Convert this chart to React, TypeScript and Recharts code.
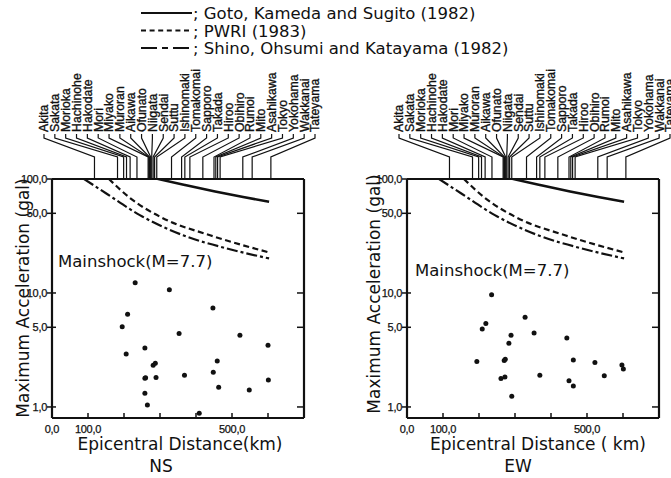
import React from 'react';
import { ComposedChart, Line, Scatter, XAxis, YAxis } from 'recharts';

// ── recording stations (top axis) and epicentral distance, km ──
const stations = [
  'Akita', 'Sakata', 'Morioka', 'Hachinohe', 'Hakodate', 'Mori', 'Miyako', 'Muroran',
  'Aikawa', 'Ofunato', 'Niigata', 'Sendai', 'Suttu', 'Ishinomaki', 'Tomakomai', 'Sapporo',
  'Takada', 'Hiroo', 'Obihiro', 'Rumoi', 'Mito', 'Asahikawa', 'Tokyo', 'Yokohama',
  'Wakkanai', 'Tateyama',
];
const stationKm = [
  118, 182, 199, 207, 217, 236, 267, 269,
  271, 274, 277, 281, 285, 291, 332, 360,
  369, 383, 419, 450, 455, 460, 467, 530,
  556, 608,
];

// ── observed peak accelerations, NS component ──
const nsKm = [231, 326, 210, 447, 195, 353, 522, 600, 206, 258, 459, 281, 287, 448, 258, 260, 289, 368, 601, 463, 548, 258, 265, 409];
const nsGal = [12.3, 10.7, 6.5, 7.4, 5.05, 4.4, 4.25, 3.47, 2.91, 3.29, 2.53, 2.32, 2.42, 2.02, 1.79, 1.8, 1.81, 1.9, 1.72, 1.49, 1.41, 1.32, 1.04, 0.88];

// ── observed peak accelerations, EW component ──
const ewKm = [235, 328, 219, 209, 289, 353, 444, 283, 194, 270, 273, 462, 522, 597, 601, 261, 272, 369, 450, 462, 548, 291];
const ewGal = [9.67, 6.12, 5.39, 4.84, 4.26, 4.46, 4.03, 3.63, 2.51, 2.55, 2.62, 2.58, 2.46, 2.33, 2.15, 1.78, 1.83, 1.9, 1.7, 1.53, 1.88, 1.24];

// ── attenuation curves ──
const gotoKm = [294, 369, 453, 531, 603];
const gotoGal = [100, 88.5, 77.6, 69.4, 63.1];
const pwriKm = [158, 217, 308, 439, 603];
const pwriGal = [100, 68, 45.3, 32.1, 22.7];
const shinoKm = [89, 153, 244, 364, 494, 603];
const shinoGal = [100, 73.8, 48.2, 32.1, 24.2, 20.1];

const distTicks = [0, 100, 200, 300, 400, 500, 600];
const distLabelled = [0, 100, 500];
const galTicks = [1, 5, 10, 50, 100];

const PLOT_LEFT = 52;
const LABEL_STEP = 10.84;
const sans = "'DejaVu Sans', sans-serif";
const small = "'Liberation Sans', Arial, sans-serif";

const zip = (km: number[], gal: number[]) => km.map((k, i) => ({ km: k, gal: gal[i] }));
const fmt = (v: number) => v.toFixed(1).replace('.', ',');

const StationTick = (props: any) => {
  const { x, y, index } = props;
  const lx = PLOT_LEFT - 8 + index * LABEL_STEP;
  return (
    <g>
      <polyline
        points={`${lx},${y - 45} ${lx},${y - 41} ${x},${y - 22} ${x},${y}`}
        fill="none" stroke="#111" strokeWidth={1.2}
      />
      <text transform={`translate(${lx + 4.4},${y - 47}) rotate(-90)`} fontSize={12.3} fontFamily={small}
        fill="#111" stroke="#111" strokeWidth={0.35}>
        {stations[index]}
      </text>
    </g>
  );
};

const DistTick = (props: any) => {
  const { x, y, payload } = props;
  const v = payload.value;
  return (
    <g>
      {v > 0 && <line x1={x} x2={x} y1={y} y2={y - 5} stroke="#111" strokeWidth={1.5} />}
      {distLabelled.includes(v) && (
        <text x={x} y={y + 15} textAnchor="middle" fontSize={11} fontFamily={small} letterSpacing={-0.3}
          fill="#111" stroke="#111" strokeWidth={0.25}>
          {fmt(v)}
        </text>
      )}
    </g>
  );
};

const GalTick = (props: any) => {
  const { x, y, payload } = props;
  return (
    <g>
      <line x1={x - 5} x2={x + 4} y1={y} y2={y} stroke="#111" strokeWidth={1.5} />
      <text x={x - 5} y={y + 4} textAnchor="end" fontSize={11} fontFamily={small} letterSpacing={-0.3}
        fill="#111" stroke="#111" strokeWidth={0.25}>
        {fmt(payload.value)}
      </text>
    </g>
  );
};

const RightTick = (props: any) => {
  const { x, y } = props;
  return <line x1={x - 7} x2={x} y1={y} y2={y} stroke="#111" strokeWidth={1.5} />;
};

const dot = (p: any) => <circle cx={p.cx} cy={p.cy} r={2.5} fill="#111" />;
const frame = { stroke: '#111', strokeWidth: 2.2 };

const Panel = ({ km, gal, width, rightW }: { km: number[]; gal: number[]; width: number; rightW: number }) => (
  <ComposedChart width={width} height={478} margin={{ top: 0, right: 0, bottom: 0, left: 0 }}>
    <XAxis xAxisId="bottom" dataKey="km" type="number" domain={[0, 700]} ticks={distTicks} interval={0}
      tick={DistTick} tickSize={0} tickMargin={0} height={60} axisLine={frame} allowDataOverflow />
    <XAxis xAxisId="top" orientation="top" dataKey="km" type="number" domain={[0, 700]} ticks={stationKm} interval={0}
      tick={StationTick} tickSize={0} tickMargin={0} height={179} axisLine={frame} allowDataOverflow />
    <YAxis yAxisId="left" dataKey="gal" type="number" scale="log" domain={[0.8, 100]} ticks={galTicks} interval={0}
      tick={GalTick} tickSize={0} tickMargin={0} width={PLOT_LEFT} axisLine={frame} allowDataOverflow />
    <YAxis yAxisId="right" orientation="right" dataKey="gal" type="number" scale="log" domain={[0.8, 100]} ticks={galTicks.slice(0, 4)} interval={0}
      tick={RightTick} tickSize={0} tickMargin={0} width={rightW} axisLine={frame} allowDataOverflow />

    <Line xAxisId="top" yAxisId="right" data={zip(gotoKm, gotoGal)} dataKey="gal" type="monotone"
      stroke="#111" strokeWidth={2.6} dot={false} isAnimationActive={false} />
    <Line xAxisId="top" yAxisId="right" data={zip(pwriKm, pwriGal)} dataKey="gal" type="monotone"
      stroke="#111" strokeWidth={2.2} strokeDasharray="6 3.5" dot={false} isAnimationActive={false} />
    <Line xAxisId="top" yAxisId="right" data={zip(shinoKm, shinoGal)} dataKey="gal" type="monotone"
      stroke="#111" strokeWidth={2.2} strokeDasharray="11 3 3 3" dot={false} isAnimationActive={false} />

    <Scatter xAxisId="bottom" yAxisId="left" data={zip(km, gal)} shape={dot} isAnimationActive={false} />
  </ComposedChart>
);

const legendRows = [
  { y: 19, dash: undefined, text: '; Goto, Kameda and Sugito (1982)' },
  { y: 36.5, dash: '5 3.6', text: '; PWRI (1983)' },
  { y: 54, dash: '16 5 6 5', text: '; Shino, Ohsumi and Katayama (1982)' },
];

export default function App() {
  return (
    <div style={{ position: 'absolute', left: 0, top: 0, width: 671, height: 478, background: '#fff', overflow: 'hidden' }}>
      <div style={{ position: 'absolute', left: 0, top: 0 }}>
        <Panel km={nsKm} gal={nsGal} width={330} rightW={26} />
      </div>
      <div style={{ position: 'absolute', left: 355, top: 0 }}>
        <Panel km={ewKm} gal={ewGal} width={316} rightW={12} />
      </div>
      <svg width={671} height={478} style={{ position: 'absolute', left: 0, top: 0, pointerEvents: 'none' }}
        fontFamily={sans} fill="#111">
        {legendRows.map((r) => (
          <g key={r.text}>
            <line x1={141} x2={192} y1={r.y - 6} y2={r.y - 6} stroke="#111" strokeWidth={2} strokeDasharray={r.dash} />
            <text x={193} y={r.y} fontSize={16.5}>{r.text}</text>
          </g>
        ))}

        <text x={58} y={267} fontSize={16.5}>Mainshock(M=7.7)</text>
        <text x={415} y={276} fontSize={16.5}>Mainshock(M=7.7)</text>

        <text transform="translate(29,298) rotate(-90)" textAnchor="middle" fontSize={17}>Maximum Acceleration (gal)</text>
        <text transform="translate(380,294) rotate(-90)" textAnchor="middle" fontSize={17}>Maximum Acceleration (gal)</text>

        <text x={180} y={450} textAnchor="middle" fontSize={17}>Epicentral Distance(km)</text>
        <text x={161} y={472} textAnchor="middle" fontSize={17}>NS</text>
        <text x={538} y={450} textAnchor="middle" fontSize={17}>Epicentral Distance ( km)</text>
        <text x={518} y={472} textAnchor="middle" fontSize={17}>EW</text>
      </svg>
    </div>
  );
}
